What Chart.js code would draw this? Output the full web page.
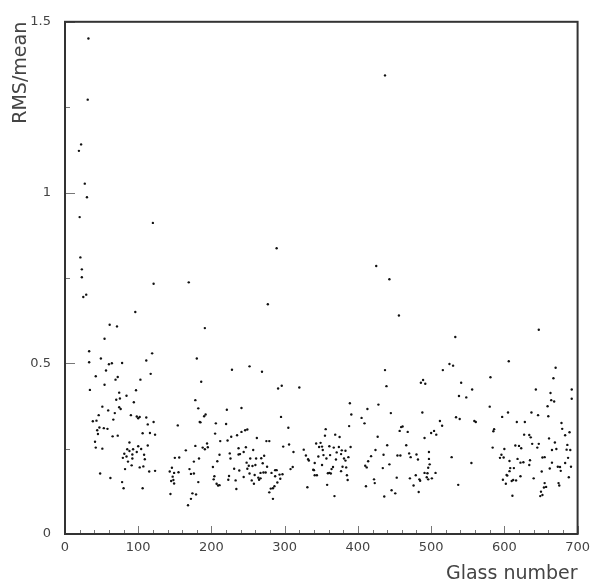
<!DOCTYPE html>
<html>
<head>
<meta charset="utf-8">
<script src="https://cdn.jsdelivr.net/npm/chart.js@4.4.1/dist/chart.umd.min.js"></script>
<style>
  html, body { margin: 0; padding: 0; background: #fff; }
</style>
</head>
<body>
<canvas id="myChart" width="596" height="587"></canvas>
<script>
// glass number (x) and RMS/mean (y)
const glassNumber = [
  32, 31, 22, 19, 27, 30, 20, 120, 21, 23, 23, 121, 169, 29, 25, 96,
  437, 289, 425, 277, 191, 443, 456, 647,
  61, 71, 54, 33, 49, 119, 33, 60, 64, 78, 111, 56, 42, 72, 69, 117, 103, 54, 34, 97,
  74, 84, 70, 75, 94, 74, 76, 51, 59, 68, 46, 66, 90, 98, 102, 100, 111, 38, 43, 121,
  113, 47, 53, 58, 44, 45, 154, 65, 72, 106, 116, 123, 41, 88, 113, 42, 51, 100, 104, 85,
  88, 93, 98, 165, 81, 84, 92, 108, 79, 92, 109, 150, 156, 86, 91, 102, 107, 82, 115, 123,
  143, 146, 149, 155, 170, 172, 48, 147, 148, 62, 78, 145, 149, 80, 106, 144, 168, 172, 174, 176, 176,
  180, 228, 252, 269, 186, 291, 296, 320, 178, 182, 221, 241, 190, 192, 295, 184, 185, 206, 220, 305,
  249, 246, 241, 235, 205, 227, 262, 275, 279, 212, 222, 194, 178, 188, 191, 195, 247, 237, 244, 239,
  237, 298, 306, 257, 225, 226, 211, 183, 272, 268, 312, 253, 261, 208, 248, 251, 256, 260, 270, 276,
  202, 231, 238, 249, 287, 289, 308, 311, 204, 244, 252, 259, 267, 271, 274, 282, 293, 297, 224, 223,
  264, 265, 267, 287, 294, 233, 255, 182, 203, 207, 209, 211, 258, 290, 331, 234, 286, 284, 281, 279, 179, 284,
  326, 329, 332, 333, 339, 340, 341, 344, 341, 343, 349, 347, 351, 346, 353, 352, 351,
  356, 355, 369, 375, 361, 367, 374, 378, 383, 390, 371, 377, 362, 357, 370, 381, 383, 387, 366, 364,
  379, 384, 377, 359, 361, 363, 385, 386, 358, 368, 389, 391, 388, 405, 409, 413, 427, 424, 418, 414,
  410, 412, 428, 437, 439, 445, 440, 435, 434, 443, 422, 423, 411, 436, 446, 451, 453, 454, 458, 457,
  459, 461, 468, 466, 470, 472, 471, 476, 483, 479, 484, 485, 480, 482, 488, 486, 489, 492, 491, 491,
  495, 494, 496, 498, 496, 497, 497, 501, 506, 500, 504, 507, 512, 515, 516, 525, 530, 533, 534, 528, 537, 538,
  541, 548, 556, 539, 559, 561, 555, 581, 580, 606, 670, 667, 643, 663, 664, 668, 692, 692, 659, 660,
  605, 597, 637, 646, 617, 628, 586, 585, 627, 634, 636, 678, 679, 689, 683, 661, 584, 600, 615, 620,
  623, 638, 647, 645, 669, 665, 671, 686, 685, 690, 596, 594, 599, 618, 622, 626, 634, 635, 607, 652,
  655, 665, 662, 673, 676, 677, 683, 687, 691, 608, 613, 607, 603, 604, 622, 651, 640, 598, 602, 610,
  612, 616, 688, 655, 654, 657, 674, 675, 650, 652, 649, 611
];
const rmsOverMean = [
  1.451, 1.272, 1.141, 1.122, 1.026, 0.986, 0.928, 0.911, 0.810, 0.775, 0.752, 0.733, 0.737, 0.701, 0.694, 0.650,
  1.343, 0.837, 0.785, 0.673, 0.603, 0.746, 0.640, 0.598,
  0.613, 0.608, 0.572, 0.535, 0.514, 0.529, 0.503, 0.497, 0.500, 0.501, 0.508, 0.479, 0.462, 0.460, 0.452, 0.469, 0.452, 0.437, 0.422, 0.421,
  0.414, 0.405, 0.393, 0.397, 0.386, 0.371, 0.366, 0.373, 0.362, 0.354, 0.348, 0.335, 0.348, 0.344, 0.343, 0.339, 0.341, 0.330, 0.332, 0.328,
  0.321, 0.312, 0.310, 0.308, 0.304, 0.293, 0.318, 0.286, 0.288, 0.295, 0.296, 0.291, 0.270, 0.268, 0.259, 0.253, 0.250, 0.257, 0.249, 0.248,
  0.243, 0.248, 0.240, 0.245, 0.235, 0.227, 0.233, 0.232, 0.223, 0.221, 0.219, 0.223, 0.224, 0.212, 0.201, 0.195, 0.198, 0.190, 0.183, 0.185,
  0.183, 0.194, 0.179, 0.181, 0.190, 0.176, 0.177, 0.168, 0.158, 0.164, 0.152, 0.155, 0.148, 0.134, 0.134, 0.117, 0.084, 0.103, 0.119, 0.212, 0.177,
  0.514, 0.481, 0.491, 0.475, 0.446, 0.426, 0.434, 0.429, 0.392, 0.368, 0.364, 0.369, 0.345, 0.350, 0.343, 0.328, 0.327, 0.324, 0.322, 0.311,
  0.306, 0.304, 0.299, 0.289, 0.294, 0.285, 0.281, 0.272, 0.272, 0.272, 0.274, 0.265, 0.258, 0.253, 0.248, 0.254, 0.254, 0.251, 0.240, 0.234,
  0.233, 0.256, 0.262, 0.246, 0.236, 0.221, 0.232, 0.221, 0.229, 0.222, 0.240, 0.221, 0.221, 0.213, 0.209, 0.200, 0.199, 0.202, 0.207, 0.197,
  0.196, 0.191, 0.186, 0.191, 0.187, 0.187, 0.190, 0.196, 0.169, 0.167, 0.177, 0.173, 0.179, 0.180, 0.180, 0.179, 0.174, 0.175, 0.170, 0.159,
  0.165, 0.159, 0.163, 0.169, 0.162, 0.157, 0.157, 0.152, 0.160, 0.147, 0.142, 0.143, 0.147, 0.151, 0.137, 0.132, 0.140, 0.134, 0.133, 0.122, 0.116, 0.103,
  0.247, 0.230, 0.219, 0.215, 0.188, 0.187, 0.172, 0.172, 0.208, 0.265, 0.267, 0.255, 0.256, 0.227, 0.231, 0.246, 0.202,
  0.307, 0.288, 0.291, 0.284, 0.257, 0.253, 0.255, 0.245, 0.244, 0.255, 0.239, 0.234, 0.231, 0.221, 0.218, 0.221, 0.215, 0.225, 0.196, 0.190,
  0.197, 0.195, 0.184, 0.178, 0.179, 0.177, 0.172, 0.158, 0.144, 0.111, 0.383, 0.350, 0.316, 0.340, 0.324, 0.366, 0.285, 0.246, 0.228, 0.213,
  0.200, 0.195, 0.379, 0.480, 0.433, 0.354, 0.260, 0.232, 0.193, 0.204, 0.160, 0.149, 0.140, 0.110, 0.128, 0.119, 0.165, 0.230, 0.230, 0.302,
  0.313, 0.315, 0.299, 0.260, 0.236, 0.225, 0.163, 0.142, 0.123, 0.172, 0.160, 0.156, 0.233, 0.218, 0.356, 0.443, 0.451, 0.440, 0.281, 0.179,
  0.178, 0.166, 0.160, 0.204, 0.194, 0.220, 0.240, 0.163, 0.179, 0.296, 0.302, 0.291, 0.331, 0.317, 0.480, 0.498, 0.493, 0.577, 0.342, 0.225, 0.144, 0.404,
  0.443, 0.400, 0.423, 0.337, 0.331, 0.328, 0.208, 0.459, 0.373, 0.506, 0.487, 0.456, 0.423, 0.413, 0.392, 0.388, 0.423, 0.396, 0.374, 0.345,
  0.356, 0.343, 0.356, 0.348, 0.328, 0.328, 0.307, 0.301, 0.291, 0.290, 0.283, 0.325, 0.308, 0.298, 0.289, 0.280, 0.253, 0.249, 0.259, 0.258,
  0.251, 0.264, 0.264, 0.253, 0.268, 0.246, 0.249, 0.261, 0.247, 0.246, 0.232, 0.223, 0.224, 0.220, 0.209, 0.210, 0.202, 0.216, 0.214, 0.224,
  0.225, 0.209, 0.192, 0.197, 0.196, 0.185, 0.208, 0.223, 0.197, 0.193, 0.193, 0.184, 0.173, 0.171, 0.169, 0.183, 0.163, 0.159, 0.147, 0.155,
  0.158, 0.157, 0.166, 0.149, 0.136, 0.138, 0.149, 0.142, 0.124, 0.114, 0.111, 0.112
];

const xRange = [0, 700];
const yRange = [0, 1.5];
const xLabelEvery = 100;   // labelled x ticks, minor every 20
const yLabelEvery = 0.5;   // labelled y ticks, minor every 0.25

const points = glassNumber.map((g, i) => ({ x: g, y: rmsOverMean[i] }));

Chart.defaults.font.family = 'DejaVu Sans';
Chart.defaults.color = '#444';

const isMultiple = (v, step) => Math.abs(v / step - Math.round(v / step)) < 1e-6;

// ROOT-style frame with tick marks pointing into the plot
const frameTicks = {
  id: 'frameTicks',
  afterDatasetsDraw(chart) {
    const { ctx, chartArea: a, scales: { x, y } } = chart;
    ctx.save();
    ctx.strokeStyle = '#777';
    ctx.lineWidth = 1;
    ctx.beginPath();
    x.ticks.forEach(t => {
      const px = Math.round(x.getPixelForValue(t.value)) + 0.5;
      const len = isMultiple(t.value, xLabelEvery) ? 8 : 4;
      ctx.moveTo(px, a.bottom);
      ctx.lineTo(px, a.bottom - len);
    });
    y.ticks.forEach(t => {
      const py = Math.round(y.getPixelForValue(t.value)) + 0.5;
      const len = isMultiple(t.value, yLabelEvery) ? 10 : 5;
      ctx.moveTo(a.left, py);
      ctx.lineTo(a.left + len, py);
    });
    ctx.stroke();
    ctx.strokeStyle = '#333';
    ctx.lineWidth = 2;
    ctx.strokeRect(a.left, a.top, a.right - a.left, a.bottom - a.top);
    ctx.restore();
  }
};

new Chart(document.getElementById('myChart'), {
  type: 'scatter',
  data: {
    datasets: [{
      data: points,
      pointRadius: 1.2,
      pointBorderWidth: 0,
      pointBackgroundColor: '#111',
      pointHoverRadius: 1.2
    }]
  },
  options: {
    responsive: false,
    animation: false,
    devicePixelRatio: 1,
    layout: { padding: { top: 12, right: 15, left: 0, bottom: 0 } },
    plugins: { legend: { display: false }, tooltip: { enabled: false } },
    scales: {
      x: {
        type: 'linear',
        min: xRange[0],
        max: xRange[1],
        grid: { display: false, drawTicks: false },
        border: { display: false },
        ticks: {
          stepSize: 20,
          autoSkip: false,
          maxRotation: 0,
          padding: 6,
          font: { size: 13 },
          callback: v => isMultiple(v, xLabelEvery) ? String(v) : ''
        },
        title: {
          display: true,
          text: 'Glass number',
          align: 'end',
          font: { size: 19 },
          padding: { top: 0, bottom: 2 }
        },
        afterFit: s => { s.height = 53; }
      },
      y: {
        type: 'linear',
        min: yRange[0],
        max: yRange[1],
        grid: { display: false, drawTicks: false },
        border: { display: false },
        ticks: {
          stepSize: 0.25,
          autoSkip: false,
          padding: 14,
          font: { size: 13 },
          callback: v => isMultiple(v, yLabelEvery) ? String(v) : ''
        },
        title: {
          display: true,
          text: 'RMS/mean',
          align: 'end',
          font: { size: 19 },
          padding: { top: 10, bottom: 0 }
        },
        afterFit: s => { s.width = 65; }
      }
    }
  },
  plugins: [frameTicks]
});
</script>
</body>
</html>
